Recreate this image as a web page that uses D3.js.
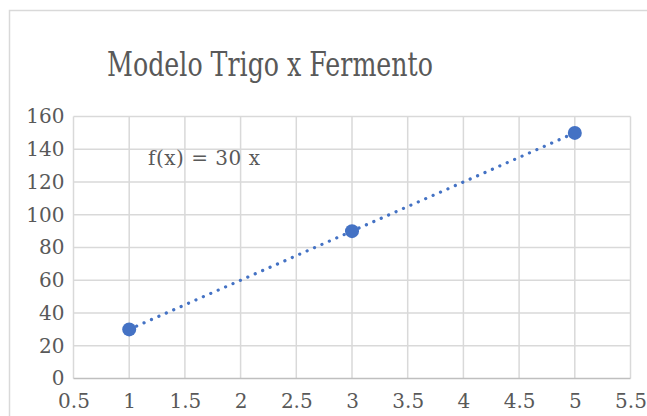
<!DOCTYPE html>
<html><head><meta charset="utf-8">
<script src="https://cdn.jsdelivr.net/npm/d3@7"></script>
<style>html,body{margin:0;padding:0;background:#fff;overflow:hidden}</style>
</head><body>
<svg id="c" width="647" height="416"></svg>
<script>
const xValues = [1, 3, 5];
const yValues = [30, 90, 150];
const xTicks = [0.5, 1, 1.5, 2, 2.5, 3, 3.5, 4, 4.5, 5, 5.5];
const yTicks = [0, 20, 40, 60, 80, 100, 120, 140, 160];
const trendSlope = 30;
const title = "Modelo Trigo x Fermento";
const eqLabel = "f(x) = 30 x";

const svg = d3.select("#c");
const font = "'DejaVu Serif', serif";
const titleFont = "'DejaVu Serif Condensed', 'DejaVu Serif', serif";
const textColor = "#595959";
const blue = "#4472C4";

svg.append("rect").attr("x", 9.5).attr("y", 10.5).attr("width", 700).attr("height", 500)
  .attr("fill", "#fff").attr("stroke", "#d9d9d9").attr("stroke-width", 1.5);

const x = d3.scaleLinear().domain([0.5, 5.5]).range([73.5, 630.5]);
const y = d3.scaleLinear().domain([0, 160]).range([378.5, 116.5]);

const titleCx = 270, titleW = 326;
const tg = svg.append("g");
const t = tg.append("text").attr("x", 0).attr("y", 0).attr("text-anchor", "middle")
  .attr("font-family", titleFont).attr("font-size", 33).attr("fill", textColor).text(title);
const tw = t.node().getComputedTextLength();
tg.attr("transform", `translate(${titleCx},76) scale(${titleW / tw},1)`);

const g = svg.append("g");
g.selectAll(".hg").data(yTicks.filter(d => d > 0)).join("line")
  .attr("x1", x(0.5)).attr("x2", x(5.5)).attr("y1", d => y(d)).attr("y2", d => y(d))
  .attr("stroke", "#d9d9d9").attr("stroke-width", 1.5);
g.selectAll(".vg").data(xTicks).join("line")
  .attr("x1", d => x(d)).attr("x2", d => x(d)).attr("y1", y(0)).attr("y2", y(160))
  .attr("stroke", "#d9d9d9").attr("stroke-width", 1.5);
g.append("line").attr("x1", x(0.5)).attr("x2", x(5.5)).attr("y1", y(0)).attr("y2", y(0))
  .attr("stroke", "#bfbfbf").attr("stroke-width", 1.5);

const xAxis = d3.axisBottom(x).tickValues(xTicks).tickSize(0).tickPadding(15).tickFormat(d3.format("~g"));
const xa = svg.append("g").attr("transform", `translate(0,${y(0)})`).call(xAxis);
xa.select(".domain").remove();
xa.selectAll("text").attr("font-family", font).attr("font-size", 20).attr("fill", textColor).attr("dy", "0.71em");

const yAxis = d3.axisLeft(y).tickValues(yTicks).tickSize(0).tickPadding(9);
const ya = svg.append("g").attr("transform", `translate(${x(0.5)},0)`).call(yAxis);
ya.select(".domain").remove();
ya.selectAll("text").attr("font-family", font).attr("font-size", 20).attr("fill", textColor);

const tx = [d3.min(xValues), d3.max(xValues)];
svg.append("line").attr("x1", x(tx[0])).attr("y1", y(trendSlope * tx[0]))
  .attr("x2", x(tx[1])).attr("y2", y(trendSlope * tx[1]))
  .attr("stroke", blue).attr("stroke-width", 3.2).attr("stroke-linecap", "round")
  .attr("stroke-dasharray", "0.1 8");

svg.selectAll(".pt").data(xValues).join("circle")
  .attr("cx", d => x(d)).attr("cy", (d, i) => y(yValues[i])).attr("r", 7).attr("fill", blue);

svg.append("text").attr("x", 148).attr("y", 165).attr("font-family", font).attr("font-size", 20)
  .attr("textLength", 112).attr("lengthAdjust", "spacing")
  .attr("fill", textColor).text(eqLabel);
</script>
</body></html>
